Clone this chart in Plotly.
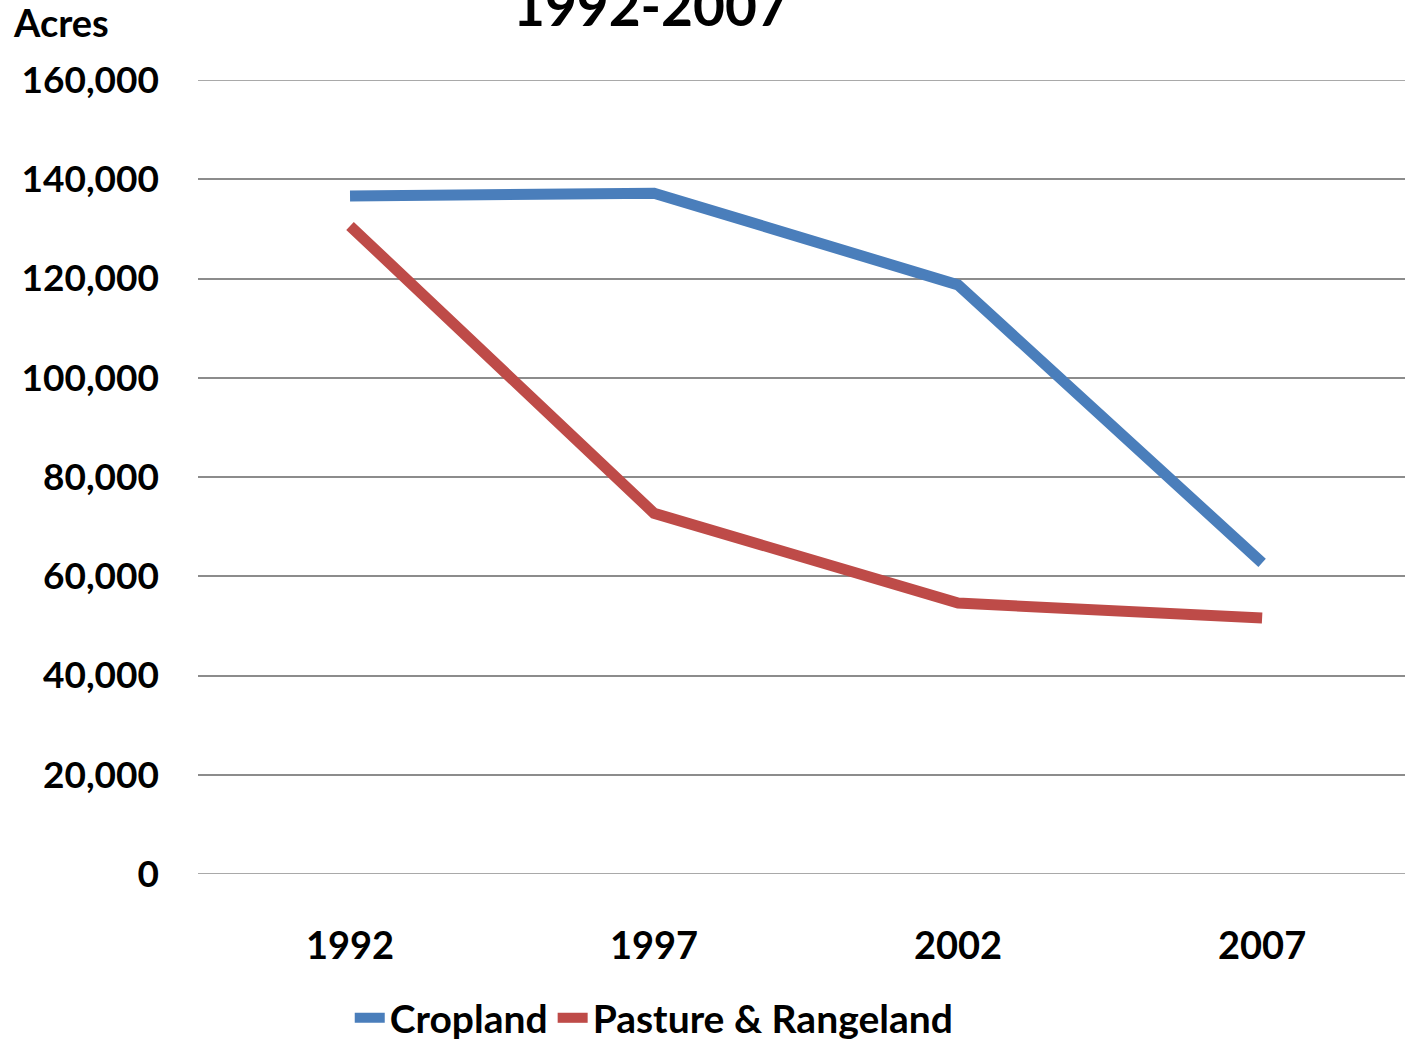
import plotly.graph_objects as go

years = ["1992", "1997", "2002", "2007"]
cropland = [136600, 137200, 118700, 62700]
pasture = [130600, 72700, 54600, 51600]
y_ticks = [0, 20000, 40000, 60000, 80000, 100000, 120000, 140000, 160000]
y_tick_labels = ["0", "20,000", "40,000", "60,000", "80,000", "100,000", "120,000", "140,000", "160,000"]

FONT = "Lato"
GRID = "#8C8C8C"
fig = go.Figure()
fig.add_trace(go.Scatter(x=years, y=cropland, mode="lines", name="Cropland",
                         line=dict(color="#4A7EBB", width=11)))
fig.add_trace(go.Scatter(x=years, y=pasture, mode="lines", name="Pasture & Rangeland",
                         line=dict(color="#BE4B48", width=11)))

fig.update_layout(
    width=1405, height=1049,
    margin=dict(l=198, r=0, t=80, b=175, autoexpand=False),
    paper_bgcolor="white", plot_bgcolor="white",
    font=dict(family=FONT, size=38, color="black", weight="bold"),
    showlegend=True,
    legend=dict(orientation="h", x=0.378, xanchor="center", y=-0.141, yanchor="top",
                font=dict(family=FONT, size=39, color="black", weight="bold"),
                tracegroupgap=0, bgcolor="rgba(0,0,0,0)"),
    xaxis=dict(type="category", range=[-0.5, 3.47], showgrid=False, zeroline=False,
               showline=False, ticks="", ticklabelstandoff=46,
               tickfont=dict(family=FONT, size=38, color="black", weight="bold")),
    yaxis=dict(range=[0, 160000], tickvals=y_ticks, ticktext=y_tick_labels,
               showgrid=True, gridcolor=GRID, gridwidth=1.5, zeroline=False,
               showline=False, ticks="", ticklabelstandoff=38,
               tickfont=dict(family=FONT, size=37, color="black", weight="bold")),
    annotations=[
        dict(text="Acres", xref="paper", yref="paper", x=-0.155, y=1.073,
             xanchor="left", yanchor="middle", showarrow=False,
             font=dict(family=FONT, size=38, color="black", weight="bold")),
        dict(text="1992-2007", xref="paper", yref="paper", x=0.375, y=1.095,
             xanchor="center", yanchor="middle", showarrow=False,
             font=dict(family=FONT, size=55, color="black", weight="bold")),
    ],
)
for v in (0, 160000):
    fig.add_shape(type="line", xref="paper", yref="y", x0=0, x1=1, y0=v, y1=v,
                  line=dict(color=GRID, width=1.5), layer="below")

fig.write_html("out.html", config={"displayModeBar": False},
               post_script="document.body.style.margin='0';document.body.style.overflow='hidden';")
